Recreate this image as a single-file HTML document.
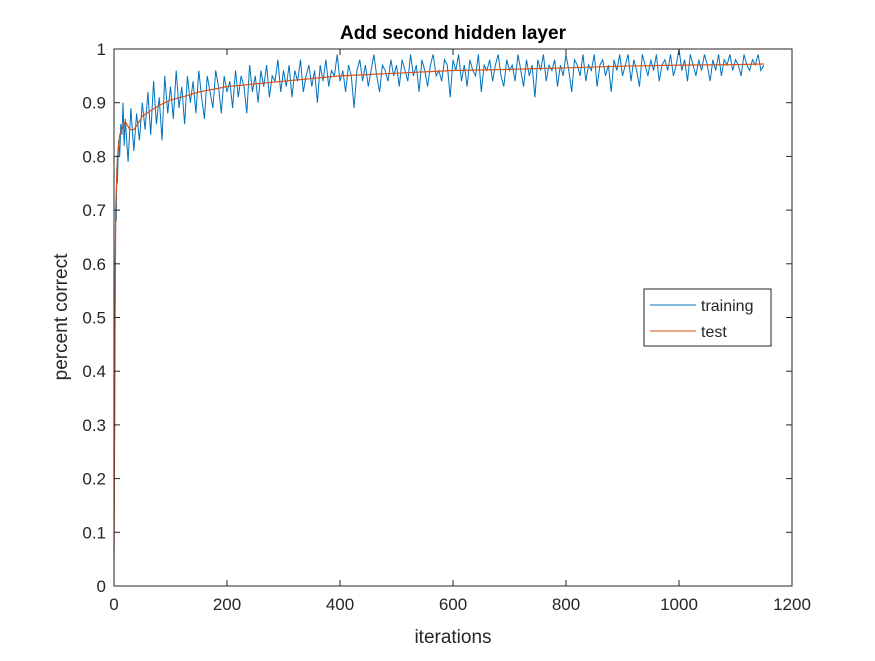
<!DOCTYPE html>
<html><head><meta charset="utf-8"><style>
body{margin:0;background:#fff;}
svg text{font-family:"Liberation Sans",Arial,sans-serif;fill:#262626;}
</style></head><body>
<svg id="chart" width="875" height="656">
<rect width="875" height="656" fill="#fff"/>
<g id="plot"></g>
</svg>
<script>
const xTicks=[0,200,400,600,800,1000,1200];
const yTicks=[0,0.1,0.2,0.3,0.4,0.5,0.6,0.7,0.8,0.9,1];
const yTickLabels=["0","0.1","0.2","0.3","0.4","0.5","0.6","0.7","0.8","0.9","1"];
const trainEarlyIter=[0,1,2,3,4,5,6,8,10,12,14,16,18];
const trainEarlyAcc=[0.05,0.3,0.55,0.7,0.68,0.78,0.75,0.83,0.8,0.86,0.84,0.9,0.82];
const trainAcc=[0.87,0.79,0.89,0.81,0.88,0.83,0.9,
0.85,0.92,0.84,0.94,0.86,0.91,0.83,0.95,0.88,0.93,
0.87,0.96,0.89,0.93,0.86,0.95,0.9,0.94,0.88,0.96,0.91,0.87,0.95,0.92,0.89,0.96,0.93,0.88,0.95,0.92,
0.94,0.89,0.96,0.91,0.95,0.93,0.88,0.97,0.92,0.95,0.9,0.96,0.93,0.97,0.91,0.95,0.94,0.98,0.92,0.96,
0.93,0.97,0.91,0.96,0.94,0.98,0.92,0.95,0.97,0.93,0.96,0.9,0.97,0.94,0.98,0.93,0.96,0.95,0.99,0.94,
0.96,0.92,0.97,0.95,0.89,0.96,0.98,0.94,0.97,0.93,0.96,0.99,0.95,0.92,0.97,0.96,0.94,0.98,0.95,0.97,
0.93,0.98,0.96,0.94,0.99,0.95,0.97,0.92,0.98,0.96,0.93,0.97,0.99,0.95,0.96,0.94,0.98,0.97,0.91,0.98,
0.96,0.99,0.94,0.97,0.93,0.98,0.96,0.95,0.99,0.92,0.97,0.96,0.98,0.94,0.97,0.99,0.95,0.93,0.98,0.96,
0.97,0.94,0.99,0.96,0.93,0.98,0.95,0.97,0.91,0.98,0.96,0.99,0.94,0.97,0.96,0.98,0.93,0.97,0.95,0.99,
0.96,0.92,0.98,0.97,0.95,0.99,0.94,0.97,0.96,0.99,0.93,0.97,0.98,0.95,0.97,0.92,0.98,0.96,0.99,0.95,
0.97,0.99,0.94,0.98,0.96,0.93,0.99,0.97,0.95,0.98,0.96,0.99,0.94,0.97,0.98,0.96,0.99,0.95,0.97,1.0,
0.96,0.98,0.94,0.99,0.97,0.95,0.98,0.96,0.99,0.97,0.94,0.98,0.96,0.99,0.95,0.98,0.97,0.99,0.96,0.98,
0.97,0.95,0.99,0.97,0.96,0.98,0.97,0.99,0.96,0.97];
const testIter=[0,1,3,6,10,20,28,35,42,50,65,80,100,125,150,200,250,300,350,400,500,600,700,800,900,1000,1100,1150];
const testAcc=[0.05,0.3,0.7,0.8,0.84,0.865,0.85,0.85,0.86,0.875,0.885,0.895,0.905,0.912,0.92,0.93,0.935,0.94,0.945,0.95,0.955,0.96,0.962,0.965,0.968,0.97,0.971,0.972];

const L=114,R=792,T=49,B=586;
const sx=v=>L+(v-0)/(1200-0)*(R-L);
const sy=v=>B-(v-0)/(1-0)*(B-T);
const NS="http://www.w3.org/2000/svg";
const g=document.getElementById('plot');
function mk(tag,attrs,parent){const e=document.createElementNS(NS,tag);for(const k in attrs)e.setAttribute(k,attrs[k]);(parent||g).appendChild(e);return e;}

// training series
const trainIter=trainEarlyIter.slice();
for(let i=0;i<trainAcc.length;i++)trainIter.push(20+5*i);
const trainAll=trainEarlyAcc.concat(trainAcc);
let d="";for(let i=0;i<trainIter.length;i++)d+=(i?"L":"M")+sx(trainIter[i]).toFixed(1)+" "+sy(trainAll[i]).toFixed(1);
const tl=mk('path',{d:d,fill:'none',stroke:'#0072BD','stroke-width':1});


let d2="";for(let i=0;i<testIter.length;i++)d2+=(i?"L":"M")+sx(testIter[i]).toFixed(1)+" "+sy(testAcc[i]).toFixed(1);
const te=mk('path',{d:d2,fill:'none',stroke:'#D95319','stroke-width':1.2});



// axes box
const box=mk('rect',{x:L,y:T,width:R-L,height:B-T,fill:'none',stroke:'#262626','stroke-width':1});


xTicks.forEach(v=>{
  const x=sx(v);
  mk('line',{x1:x,x2:x,y1:B,y2:B-6,stroke:'#262626'});
  mk('line',{x1:x,x2:x,y1:T,y2:T+6,stroke:'#262626'});
  const t=mk('text',{x:x,y:B+24,'text-anchor':'middle','font-size':17});t.textContent=v;
  
  
});
yTicks.forEach((v,i)=>{
  const y=sy(v);
  mk('line',{x1:L,x2:L+6,y1:y,y2:y,stroke:'#262626'});
  mk('line',{x1:R,x2:R-6,y1:y,y2:y,stroke:'#262626'});
  const t=mk('text',{x:L-8,y:y+6,'text-anchor':'end','font-size':17});t.textContent=yTickLabels[i];
  
  
});
const title=mk('text',{x:453,y:39,'text-anchor':'middle','font-size':19,'font-weight':'bold',style:'fill:#000'});title.textContent='Add second hidden layer';


const xl=mk('text',{x:453,y:643,'text-anchor':'middle','font-size':19});xl.textContent='iterations';


const yl=mk('text',{x:0,y:0,'text-anchor':'middle','font-size':19,transform:'translate(67,317) rotate(-90)'});yl.textContent='percent correct';



// legend
const lg=mk('g',{});


mk('rect',{x:644,y:289,width:127,height:57,fill:'#fff',stroke:'#262626'},lg);
mk('line',{x1:650,x2:696,y1:305,y2:305,stroke:'#0072BD'},lg);
mk('line',{x1:650,x2:696,y1:331,y2:331,stroke:'#D95319'},lg);
const l1=mk('text',{x:701,y:311,'font-size':16},lg);l1.textContent='training';


const l2=mk('text',{x:701,y:337,'font-size':16},lg);l2.textContent='test';


</script>
</body></html>
